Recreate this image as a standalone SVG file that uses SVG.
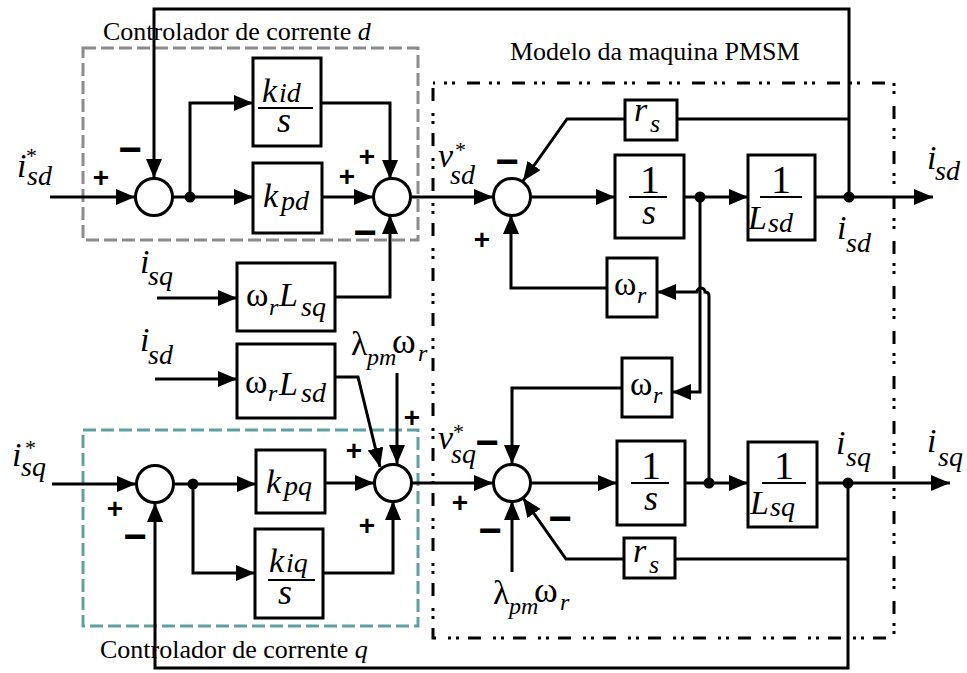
<svg xmlns="http://www.w3.org/2000/svg" width="967" height="673" viewBox="0 0 967 673">
<style>
.t{font-family:"Liberation Serif","Times New Roman",serif;fill:#000}
.i{font-style:italic}
.n{font-style:normal}
.cap{font-size:26px}
.s{font-family:"Liberation Sans",Arial,sans-serif;font-weight:bold;text-anchor:middle;fill:#000}
.pl{font-size:28px}
.mi{font-size:40px}
.blk{fill:#fff;stroke:#000;stroke-width:3}
.sum{fill:#fff;stroke:#000;stroke-width:3}
.fr{stroke:#000;stroke-width:2}
.dot{fill:#000}
.a{marker-end:url(#ah)}
</style>
<defs>
<marker id="ah" viewBox="0 0 19 16" refX="19" refY="8" markerWidth="19" markerHeight="16" markerUnits="userSpaceOnUse" orient="auto"><path d="M0,0 L19,8 L0,16 z" fill="#000"/></marker>
</defs>
<rect width="967" height="673" fill="#fff"/>

<g id="ctrl-d-frame">
<rect x="83" y="48" width="335" height="192" fill="none" stroke="#8c8c8c" stroke-width="3" stroke-dasharray="13 5"/>
<text class="t cap" x="103" y="40">Controlador de corrente <tspan class="i">d</tspan></text>
</g>
<g id="ctrl-q-frame">
<rect x="83" y="430" width="335" height="196" fill="none" stroke="#62a0a0" stroke-width="3" stroke-dasharray="13 5"/>
<text class="t cap" x="100" y="658">Controlador de corrente <tspan class="i">q</tspan></text>
</g>
<g id="pmsm-frame">
<rect x="433" y="83" width="461" height="555" fill="none" stroke="#000" stroke-width="3" stroke-dasharray="13 9 3 5 3 12" stroke-dashoffset="11"/>
<text class="t cap" x="510" y="60">Modelo da maquina PMSM</text>
</g>

<g id="connectors" fill="none" stroke="#000" stroke-width="3">
<path class="a" d="M50,197 H135"/>
<path class="a" d="M172,197 H253"/>
<path class="a" d="M190,197 V103 H253"/>
<path class="a" d="M321,103 H390 V179"/>
<path class="a" d="M322,197 H373"/>
<path class="a" d="M335,297 H390 V215"/>
<path class="a" d="M410,197 H493"/>
<path class="a" d="M849,197 V9 H154 V178"/>
<path class="a" d="M530,197 H615"/>
<path class="a" d="M684,197 H748"/>
<path class="a" d="M815,197 H933"/>
<path d="M849,119 H677"/>
<path class="a" d="M625,119 H567 L523,181"/>
<path class="a" d="M607,288 H511 V215"/>
<path class="a" d="M700,197 V392 H672"/>
<path class="a" d="M709,483 V296 Q709,292 705,292 A4,4 0 0 0 697,292 H657"/>
<path class="a" d="M52,484 H136"/>
<path class="a" d="M173,484 H256"/>
<path class="a" d="M193,484 V573 H255"/>
<path class="a" d="M325,483 H374"/>
<path class="a" d="M323,573 H393 V501"/>
<path class="a" d="M335,377 H358 L380,467"/>
<path class="a" d="M397,373 V464"/>
<path class="a" d="M411,483 H493"/>
<path class="a" d="M848,483 V668 H155 V503"/>
<path class="a" d="M530,483 H617"/>
<path class="a" d="M685,483 H748"/>
<path class="a" d="M817,483 H950"/>
<path d="M848,559 H675"/>
<path class="a" d="M624,559 H566 L523,498"/>
<path class="a" d="M622,388 H512 V464"/>
<path class="a" d="M512,572 V501"/>
<path class="a" d="M157,298 H237"/>
<path class="a" d="M155,379 H237"/>
</g>
<g id="junctions">
<circle class="dot" cx="190" cy="197" r="5.5"/>
<circle class="dot" cx="193" cy="484" r="5.5"/>
<circle class="dot" cx="700" cy="197" r="5.5"/>
<circle class="dot" cx="709" cy="483" r="5.5"/>
<circle class="dot" cx="849" cy="197" r="5.5"/>
<circle class="dot" cx="848" cy="483" r="5.5"/>
</g>

<g id="sum-d1"><circle class="sum" cx="154" cy="197" r="18.5"/>
<text class="s pl" x="101" y="187">+</text><text class="s mi" x="130" y="163">−</text></g>
<g id="sum-d2"><circle class="sum" cx="392" cy="197" r="18.5"/>
<text class="s pl" x="367" y="166">+</text><text class="s pl" x="347" y="186">+</text><text class="s mi" x="365" y="246">−</text></g>
<g id="sum-vd"><circle class="sum" cx="512" cy="197" r="18.5"/>
<text class="s mi" x="507" y="175">−</text><text class="s pl" x="482" y="249">+</text></g>
<g id="sum-q1"><circle class="sum" cx="155" cy="484" r="18.5"/>
<text class="s pl" x="115" y="518">+</text><text class="s mi" x="135" y="550">−</text></g>
<g id="sum-q2"><circle class="sum" cx="393" cy="483" r="18.5"/>
<text class="s pl" x="354" y="460">+</text><text class="s pl" x="412" y="427">+</text><text class="s pl" x="367" y="535">+</text></g>
<g id="sum-vq"><circle class="sum" cx="512" cy="483" r="18.5"/>
<text class="s mi" x="487" y="456">−</text><text class="s pl" x="460" y="512">+</text><text class="s mi" x="490" y="544">−</text><text class="s mi" x="560" y="532">−</text></g>

<g id="blk-kid"><rect class="blk" x="253" y="58" width="68" height="88"/>
<text class="t i" font-size="34" x="262" y="102">k<tspan font-size="28" x="279">id</tspan></text>
<line class="fr" x1="258" y1="108" x2="313" y2="108"/>
<text class="t i" font-size="36" x="277" y="132">s</text></g>
<g id="blk-kpd"><rect class="blk" x="253" y="163" width="69" height="70"/>
<text class="t i" font-size="34" x="263" y="207">k<tspan font-size="28" x="281" y="210">pd</tspan></text></g>
<g id="blk-kpq"><rect class="blk" x="256" y="450" width="69" height="63"/>
<text class="t i" font-size="34" x="266" y="493">k<tspan font-size="28" x="284" y="495">pq</tspan></text></g>
<g id="blk-kiq"><rect class="blk" x="255" y="529" width="68" height="89"/>
<text class="t i" font-size="34" x="269" y="572">k<tspan font-size="28" x="286">iq</tspan></text>
<line class="fr" x1="268" y1="580" x2="315" y2="580"/>
<text class="t i" font-size="36" x="278" y="604">s</text></g>
<g id="blk-wLsq"><rect class="blk" x="237" y="263" width="98" height="68"/>
<text class="t" font-size="34" x="246" y="306">ω<tspan class="i" font-size="24" x="269" y="315">r</tspan><tspan class="i" x="279" y="306">L</tspan><tspan class="i" font-size="28" x="301" y="316">sq</tspan></text></g>
<g id="blk-wLsd"><rect class="blk" x="237" y="344" width="98" height="74"/>
<text class="t" font-size="34" x="245" y="393">ω<tspan class="i" font-size="24" x="268" y="401">r</tspan><tspan class="i" x="279" y="395">L</tspan><tspan class="i" font-size="28" x="301" y="402">sd</tspan></text></g>
<g id="blk-rs-d"><rect class="blk" x="625" y="100" width="52" height="40"/>
<text class="t i" font-size="34" x="634" y="121">r<tspan font-size="26" x="650" y="132">s</tspan></text></g>
<g id="blk-int-d"><rect class="blk" x="615" y="155" width="69" height="83"/>
<text class="t" font-size="40" x="650" y="193" text-anchor="middle">1</text>
<line class="fr" x1="629" y1="197" x2="667" y2="197"/>
<text class="t i" font-size="36" x="642" y="224">s</text></g>
<g id="blk-Lsd"><rect class="blk" x="748" y="155" width="67" height="85"/>
<text class="t" font-size="40" x="781" y="193" text-anchor="middle">1</text>
<line class="fr" x1="760" y1="197" x2="802" y2="197"/>
<text class="t i" font-size="34" x="748" y="229">L<tspan font-size="28" x="768" y="232">sd</tspan></text></g>
<g id="blk-wr-d"><rect class="blk" x="607" y="258" width="50" height="59"/>
<text class="t" font-size="34" x="614" y="295">ω<tspan class="i" font-size="24" x="637" y="303">r</tspan></text></g>
<g id="blk-wr-q"><rect class="blk" x="622" y="358" width="50" height="59"/>
<text class="t" font-size="34" x="630" y="395">ω<tspan class="i" font-size="24" x="653" y="403">r</tspan></text></g>
<g id="blk-int-q"><rect class="blk" x="617" y="441" width="68" height="84"/>
<text class="t" font-size="40" x="651" y="479" text-anchor="middle">1</text>
<line class="fr" x1="631" y1="483" x2="669" y2="483"/>
<text class="t i" font-size="36" x="644" y="510">s</text></g>
<g id="blk-Lsq"><rect class="blk" x="748" y="442" width="69" height="85"/>
<text class="t" font-size="40" x="784" y="479" text-anchor="middle">1</text>
<line class="fr" x1="762" y1="483" x2="806" y2="483"/>
<text class="t i" font-size="34" x="750" y="514">L<tspan font-size="28" x="770" y="516">sq</tspan></text></g>
<g id="blk-rs-q"><rect class="blk" x="624" y="538" width="51" height="40"/>
<text class="t i" font-size="34" x="633" y="562">r<tspan font-size="26" x="649" y="573">s</tspan></text></g>

<g id="lbl-isd-ref"><text class="t i" font-size="34" x="17" y="177">i<tspan class="n" font-size="22" x="26" y="163">*</tspan><tspan font-size="28" x="27" y="185">sd</tspan></text></g>
<g id="lbl-isq-ref"><text class="t i" font-size="34" x="12" y="466">i<tspan class="n" font-size="22" x="25" y="455">*</tspan><tspan font-size="28" x="21" y="476">sq</tspan></text></g>
<g id="lbl-isq-in"><text class="t i" font-size="34" x="140" y="273">i<tspan font-size="28" x="148" y="285">sq</tspan></text></g>
<g id="lbl-isd-in"><text class="t i" font-size="34" x="140" y="351">i<tspan font-size="28" x="148" y="364">sd</tspan></text></g>
<g id="lbl-vsd"><text class="t i" font-size="34" x="438" y="167">v<tspan class="n" font-size="22" x="455" y="157">*</tspan><tspan font-size="28" x="450" y="184">sd</tspan></text></g>
<g id="lbl-vsq"><text class="t i" font-size="34" x="438" y="449">v<tspan class="n" font-size="22" x="453" y="439">*</tspan><tspan font-size="28" x="451" y="463">sq</tspan></text></g>
<g id="lbl-lam-top"><text class="t" font-size="34" x="351" y="355">λ<tspan class="i" font-size="24" x="367" y="365">pm</tspan><tspan font-size="36" x="392" y="353">ω</tspan><tspan class="i" font-size="24" x="418" y="361">r</tspan></text></g>
<g id="lbl-lam-bot"><text class="t" font-size="34" x="493" y="604">λ<tspan class="i" font-size="24" x="509" y="614">pm</tspan><tspan font-size="36" x="534" y="602">ω</tspan><tspan class="i" font-size="24" x="560" y="610">r</tspan></text></g>
<g id="lbl-isd-node"><text class="t i" font-size="34" x="837" y="239">i<tspan font-size="28" x="846" y="252">sd</tspan></text></g>
<g id="lbl-isd-out"><text class="t i" font-size="34" x="927" y="169">i<tspan font-size="28" x="935" y="180">sd</tspan></text></g>
<g id="lbl-isq-node"><text class="t i" font-size="34" x="836" y="454">i<tspan font-size="28" x="846" y="466">sq</tspan></text></g>
<g id="lbl-isq-out"><text class="t i" font-size="34" x="927" y="452">i<tspan font-size="28" x="938" y="466">sq</tspan></text></g>
</svg>
